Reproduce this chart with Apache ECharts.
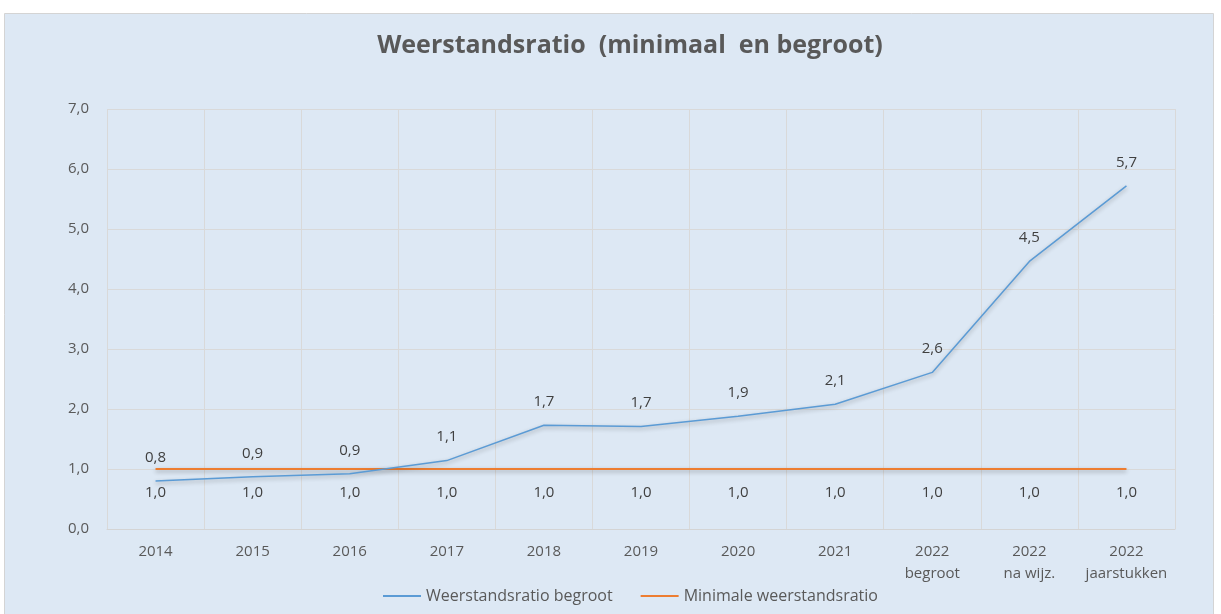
<!DOCTYPE html>
<html>
<head>
<meta charset="utf-8">
<script src="https://cdn.jsdelivr.net/npm/echarts@6/dist/echarts.min.js"></script>
<style>
html,body{margin:0;padding:0;background:#ffffff;}
#chart{width:1221px;height:614px;}
</style>
</head>
<body>
<div id="chart"></div>
<script>
const categories = ['2014','2015','2016','2017','2018','2019','2020','2021','2022\nbegroot','2022\nna wijz.','2022\njaarstukken'];
const begroot = [0.80, 0.87, 0.92, 1.14, 1.73, 1.71, 1.88, 2.08, 2.61, 4.46, 5.72];
const minimaal = [1.0, 1.0, 1.0, 1.0, 1.0, 1.0, 1.0, 1.0, 1.0, 1.0, 1.0];
const seriesNames = ['Weerstandsratio begroot', 'Minimale weerstandsratio'];
const titleText = 'Weerstandsratio  (minimaal  en begroot)';

const fmt = v => v.toFixed(1).replace('.', ',');
const FONT = 'Open Sans';
const txt = '#595959';

const chart = echarts.init(document.getElementById('chart'), null, {renderer: 'canvas'});
chart.setOption({
  backgroundColor: '#ffffff',
  animation: false,
  graphic: [{
    type: 'rect', z: -10, silent: true,
    shape: {x: 4.5, y: 13.5, width: 1209, height: 620},
    style: {fill: '#dde8f4', stroke: '#d4d4d4', lineWidth: 1}
  }],
  title: {
    text: titleText,
    left: 625, top: 28, textAlign: 'center',
    textStyle: {fontFamily: FONT, fontWeight: 'bold', fontSize: 25, color: txt}
  },
  grid: {left: 107, right: 46, top: 109, bottom: 85},
  legend: {
    data: seriesNames,
    left: 378, top: 583,
    itemWidth: 38, itemHeight: 2, itemGap: 28,
    icon: 'rect',
    textStyle: {fontFamily: FONT, fontSize: 16, color: txt}
  },
  xAxis: {
    type: 'category',
    data: categories,
    boundaryGap: true,
    axisLine: {lineStyle: {color: '#d4d4d4'}},
    axisTick: {show: false},
    splitLine: {show: true, lineStyle: {color: '#d9d9d9'}},
    axisLabel: {fontFamily: FONT, fontSize: 15, color: txt, margin: 12, lineHeight: 22, interval: 0}
  },
  yAxis: {
    type: 'value', min: 0, max: 7, interval: 1,
    axisLine: {show: false}, axisTick: {show: false},
    splitLine: {lineStyle: {color: '#d9d9d9'}},
    axisLabel: {fontFamily: FONT, fontSize: 15, color: txt, margin: 18, formatter: fmt}
  },
  series: [{
    name: seriesNames[0], type: 'line', data: begroot,
    symbol: 'circle', symbolSize: 0, showSymbol: true, z: 3,
    lineStyle: {color: '#5b9bd5', width: 1.5, shadowBlur: 4, shadowColor: 'rgba(0,0,0,0.3)', shadowOffsetY: 2},
    itemStyle: {color: '#5b9bd5'},
    label: {show: true, position: 'top', distance: 16, formatter: p => fmt(p.value),
      fontFamily: FONT, fontSize: 15, color: '#404040'}
  }, {
    name: seriesNames[1], type: 'line', data: minimaal,
    symbol: 'circle', symbolSize: 0, showSymbol: true, z: 2,
    lineStyle: {color: '#ed7d31', width: 2, shadowBlur: 4, shadowColor: 'rgba(0,0,0,0.3)', shadowOffsetY: 2},
    itemStyle: {color: '#ed7d31'},
    label: {show: true, position: 'bottom', distance: 16, formatter: p => fmt(p.value),
      fontFamily: FONT, fontSize: 15, color: '#404040'}
  }]
});
</script>
</body>
</html>
